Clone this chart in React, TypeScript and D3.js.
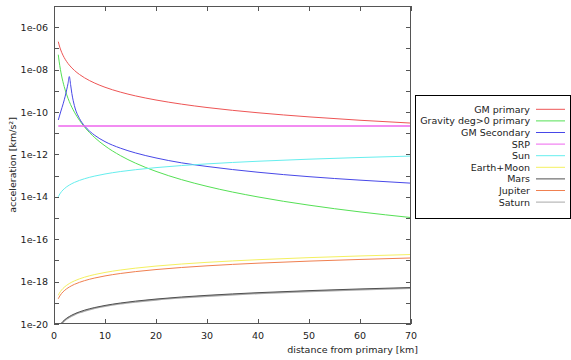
import React from "react";
import * as d3 from "d3";

const distances = [0.84, 1, 1.25, 1.5, 2, 2.5, 3, 4, 5, 6, 8, 10, 13, 16, 20, 25, 30, 40, 50, 60, 70];
const gmPrimary = [2.08e-7, 1.47e-7, 9.41e-8, 6.53e-8, 3.68e-8, 2.35e-8, 1.63e-8, 9.19e-9, 5.88e-9, 4.08e-9, 2.3e-9, 1.47e-9, 8.7e-10, 5.74e-10, 3.68e-10, 2.35e-10, 1.63e-10, 9.19e-11, 5.88e-11, 4.08e-11, 3.0e-11];
const gravityDeg = [5.06e-8, 2.52e-8, 1.03e-8, 4.98e-9, 1.58e-9, 6.45e-10, 3.11e-10, 9.84e-11, 4.03e-11, 1.94e-11, 6.15e-12, 2.52e-12, 8.82e-13, 3.85e-13, 1.58e-13, 6.45e-14, 3.11e-14, 9.84e-15, 4.03e-15, 1.94e-15, 1.05e-15];
const sun = [1.0e-14, 1.19e-14, 1.49e-14, 1.79e-14, 2.38e-14, 2.98e-14, 3.57e-14, 4.76e-14, 5.95e-14, 7.14e-14, 9.52e-14, 1.19e-13, 1.55e-13, 1.9e-13, 2.38e-13, 2.98e-13, 3.57e-13, 4.76e-13, 5.95e-13, 7.14e-13, 8.33e-13];
const earthMoon = [2.27e-19, 2.7e-19, 3.38e-19, 4.05e-19, 5.4e-19, 6.75e-19, 8.1e-19, 1.08e-18, 1.35e-18, 1.62e-18, 2.16e-18, 2.7e-18, 3.51e-18, 4.32e-18, 5.4e-18, 6.75e-18, 8.1e-18, 1.08e-17, 1.35e-17, 1.62e-17, 1.89e-17];
const jupiter = [1.55e-19, 1.85e-19, 2.31e-19, 2.78e-19, 3.7e-19, 4.63e-19, 5.55e-19, 7.4e-19, 9.25e-19, 1.11e-18, 1.48e-18, 1.85e-18, 2.41e-18, 2.96e-18, 3.7e-18, 4.63e-18, 5.55e-18, 7.4e-18, 9.25e-18, 1.11e-17, 1.3e-17];
const mars = [6.3e-21, 7.5e-21, 9.4e-21, 1.13e-20, 1.5e-20, 1.88e-20, 2.25e-20, 3.0e-20, 3.75e-20, 4.5e-20, 6.0e-20, 7.5e-20, 9.75e-20, 1.2e-19, 1.5e-19, 1.88e-19, 2.25e-19, 3.0e-19, 3.75e-19, 4.5e-19, 5.25e-19];
const saturn = [5.8e-21, 6.9e-21, 8.6e-21, 1.04e-20, 1.38e-20, 1.73e-20, 2.07e-20, 2.76e-20, 3.45e-20, 4.14e-20, 5.52e-20, 6.9e-20, 8.97e-20, 1.1e-19, 1.38e-19, 1.73e-19, 2.07e-19, 2.76e-19, 3.45e-19, 4.14e-19, 4.83e-19];

const secondaryDistances = [0.84, 1.3, 1.83, 2.2, 2.48, 2.75, 3.0, 3.25, 3.5, 4, 5, 6, 7, 8, 10, 13, 16, 20, 25, 30, 40, 50, 60, 70];
const gmSecondary = [4.2e-11, 1.0e-10, 2.6e-10, 5.6e-10, 1.1e-9, 2.2e-9, 4.7e-9, 2.0e-9, 7.5e-10, 2.0e-10, 4.9e-11, 2.2e-11, 1.23e-11, 7.9e-12, 4.0e-12, 1.98e-12, 1.17e-12, 6.8e-13, 4.0e-13, 2.7e-13, 1.44e-13, 8.9e-14, 6.1e-14, 4.4e-14];

const srpDistances = [0.84, 70];
const srp = [2.2e-11, 2.2e-11];

const xTicks = [0, 10, 20, 30, 40, 50, 60, 70];
const yTickExponents = [-20, -19, -18, -17, -16, -15, -14, -13, -12, -11, -10, -9, -8, -7, -6, -5];
const yLabelExponents = [-20, -18, -16, -14, -12, -10, -8, -6];

const seriesNames = ["GM primary", "Gravity deg>0 primary", "GM Secondary", "SRP", "Sun", "Earth+Moon", "Mars", "Jupiter", "Saturn"];
const seriesColors = ["#ee5555", "#55e055", "#4848e8", "#ee66ee", "#66eeee", "#f4f060", "#505050", "#f08050", "#a8a8a8"];

const W = 571;
const H = 360;
const L = 54;
const R = 411;
const T = 6;
const B = 324;

export default function App() {
  const x = d3.scaleLinear().domain([0, 70]).range([L, R]);
  const y = d3.scaleLog().domain([1e-20, 1e-5]).range([B, T]);
  const line = d3
    .line<[number, number]>()
    .x((d) => x(d[0]))
    .y((d) => y(d[1]))
    .curve(d3.curveMonotoneX);

  const zip = (xs: number[], ys: number[]) => xs.map((v, i) => [v, ys[i]] as [number, number]);
  const series = [
    { xs: distances, ys: gmPrimary, w: 1 },
    { xs: distances, ys: gravityDeg, w: 1 },
    { xs: secondaryDistances, ys: gmSecondary, w: 1 },
    { xs: srpDistances, ys: srp, w: 1.6 },
    { xs: distances, ys: sun, w: 1 },
    { xs: distances, ys: earthMoon, w: 1 },
    { xs: distances, ys: saturn, w: 1.6 },
    { xs: distances, ys: jupiter, w: 1 },
    { xs: distances, ys: mars, w: 1 },
  ];
  const colorIdx = [0, 1, 2, 3, 4, 5, 8, 7, 6];

  const font = "'DejaVu Sans', sans-serif";
  const fs = 9.5;
  const axisColor = "#555";
  const textColor = "#222";

  return (
    <svg width={W} height={H} style={{ position: "absolute", left: 0, top: 0, background: "#fff" }} fontFamily={font}>
      <defs>
        <clipPath id="plotclip">
          <rect x={L} y={T} width={R - L} height={B - T} />
        </clipPath>
      </defs>
      <rect x={0} y={0} width={W} height={H} fill="#fff" />
      {/* ticks */}
      {yTickExponents.map((e) => {
        const yy = Math.round(y(Math.pow(10, e))) + 0.5;
        return (
          <g key={"yt" + e}>
            <line x1={L} x2={L + 5} y1={yy} y2={yy} stroke={axisColor} strokeWidth={1} />
            <line x1={R - 5} x2={R} y1={yy} y2={yy} stroke={axisColor} strokeWidth={1} />
          </g>
        );
      })}
      {xTicks.map((t) => {
        const xx = Math.round(x(t)) + 0.5;
        return (
          <g key={"xt" + t}>
            <line x1={xx} x2={xx} y1={B} y2={B - 5} stroke={axisColor} strokeWidth={1} />
            <line x1={xx} x2={xx} y1={T} y2={T + 5} stroke={axisColor} strokeWidth={1} />
            <text x={x(t)} y={339} textAnchor="middle" fontSize={fs} fill={textColor}>
              {t}
            </text>
          </g>
        );
      })}
      {yLabelExponents.map((e) => (
        <text key={"yl" + e} x={48} y={y(Math.pow(10, e)) + 3.5} textAnchor="end" fontSize={fs} fill={textColor}>
          {"1e" + (e < 0 ? "-" : "") + String(Math.abs(e)).padStart(2, "0")}
        </text>
      ))}
      {/* series */}
      <g clipPath="url(#plotclip)">
        {series.map((s, i) => (
          <path
            key={"s" + i}
            d={line(zip(s.xs, s.ys)) || ""}
            fill="none"
            stroke={seriesColors[colorIdx[i]]}
            strokeWidth={s.w}
          />
        ))}
      </g>
      {/* frame */}
      <rect x={L + 0.5} y={T + 0.5} width={R - L - 1} height={B - T - 1} fill="none" stroke={axisColor} strokeWidth={1} />
      {/* axis labels */}
      <text x={418} y={353} textAnchor="end" fontSize={fs} fill={textColor}>
        distance from primary [km]
      </text>
      <text
        transform={`translate(15.5, ${(T + B) / 2}) rotate(-90)`}
        textAnchor="middle"
        fontSize={fs}
        fill={textColor}
      >
        acceleration [km/s²]
      </text>
      {/* legend */}
      <rect x={415.5} y={95.5} width={155} height={123} fill="#fff" stroke="#000" strokeWidth={1} />
      {seriesNames.map((n, i) => {
        const yy = 109.3 + i * 11.6;
        return (
          <g key={"lg" + i}>
            <text x={530} y={yy + 3.4} textAnchor="end" fontSize={fs} fill={textColor}>
              {n}
            </text>
            <line x1={536} x2={565} y1={yy} y2={yy} stroke={seriesColors[i]} strokeWidth={1} />
          </g>
        );
      })}
    </svg>
  );
}
